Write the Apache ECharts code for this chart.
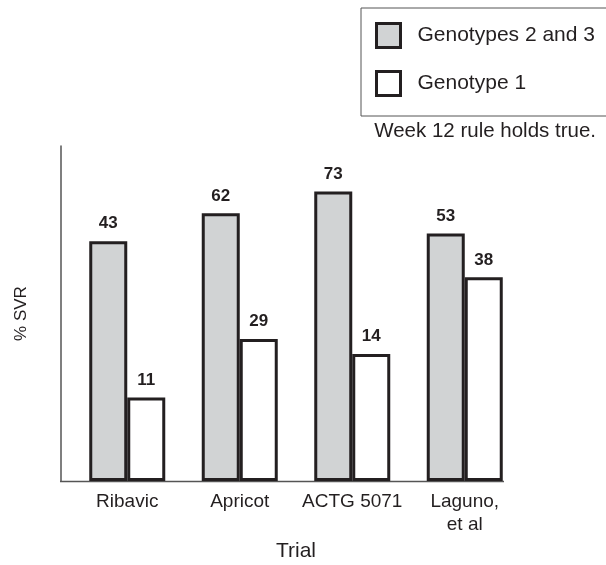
<!DOCTYPE html>
<html>
<head>
<meta charset="utf-8">
<script src="https://cdn.jsdelivr.net/npm/echarts@6/dist/echarts.min.js"></script>
<style>html,body{margin:0;padding:0;background:#fff}#c{width:606px;height:565px}</style>
</head>
<body>
<div id="c"></div>
<script>
// Trial categories
const categories = ['Ribavic', 'Apricot', 'ACTG 5071', 'Laguno,\net al'];
// Printed %SVR values (bar labels)
const svrGenotypes23 = [43, 62, 73, 53];
const svrGenotype1 = [11, 29, 14, 38];
// Bar heights as drawn in the picture (share of the axis height, 0-100)
const heightGenotypes23 = [71.6, 79.9, 86.4, 73.9];
const heightGenotype1 = [24.9, 42.4, 37.9, 60.8];
const seriesNames = ['Genotypes 2 and 3', 'Genotype 1'];

const FONT = '"Liberation Sans", Arial, sans-serif';
const INK = '#231f20';

const chart = echarts.init(document.getElementById('c'), null, {renderer: 'canvas'});
chart.setOption({
  animation: false,
  textStyle: {fontFamily: FONT},
  title: {
    text: 'Week 12 rule holds true.',
    right: 5, top: 116,
    textStyle: {fontFamily: FONT, fontSize: 20.5, fontWeight: 'normal', color: INK}
  },
  legend: {
    orient: 'vertical',
    left: 361, top: 8,
    itemWidth: 24, itemHeight: 24, itemGap: 21,
    padding: [14, 40, 19, 14],
    borderColor: '#555', borderWidth: 1,
    icon: 'rect',
    textStyle: {fontFamily: FONT, fontSize: 21, color: INK, padding: [0, 0, 0, 12]},
    data: [
      {name: seriesNames[0], itemStyle: {color: '#d1d3d4', borderColor: INK, borderWidth: 3}},
      {name: seriesNames[1], itemStyle: {color: '#ffffff', borderColor: INK, borderWidth: 3}}
    ]
  },
  grid: {left: 71, right: 85, top: 146, bottom: 84, containLabel: false, outerBoundsMode: 'none'},
  xAxis: {
    type: 'category',
    data: categories,
    name: 'Trial',
    nameLocation: 'middle',
    nameGap: 55,
    nameTextStyle: {fontFamily: FONT, fontSize: 21, color: INK},
    axisLine: {show: false},
    axisTick: {show: false},
    axisLabel: {interval: 0, fontFamily: FONT, fontSize: 19, color: INK, margin: 9, lineHeight: 23}
  },
  yAxis: {
    type: 'value',
    min: 0, max: 100,
    offset: 10,
    name: '% SVR',
    nameLocation: 'middle',
    nameGap: 31,
    nameTextStyle: {fontFamily: FONT, fontSize: 17, color: INK},
    axisLine: {show: true, lineStyle: {color: '#555', width: 1.5}},
    axisTick: {show: false},
    axisLabel: {show: false},
    splitLine: {show: false}
  },
  graphic: [{
    type: 'line',
    shape: {x1: 60, y1: 481.5, x2: 504, y2: 481.5},
    style: {stroke: '#555', lineWidth: 1.5},
    silent: true
  }],
  series: [
    {
      name: seriesNames[0], type: 'bar',
      data: heightGenotypes23,
      barWidth: 38, barGap: '0%',
      itemStyle: {color: '#d1d3d4', borderColor: INK, borderWidth: 3},
      label: {
        show: true, position: 'top', distance: 9,
        fontFamily: FONT, fontSize: 17, fontWeight: 'bold', color: INK,
        formatter: p => String(svrGenotypes23[p.dataIndex])
      },
      z: 3
    },
    {
      name: seriesNames[1], type: 'bar',
      data: heightGenotype1,
      barWidth: 38, barGap: '0%',
      itemStyle: {color: '#ffffff', borderColor: INK, borderWidth: 3},
      label: {
        show: true, position: 'top', distance: 9,
        fontFamily: FONT, fontSize: 17, fontWeight: 'bold', color: INK,
        formatter: p => String(svrGenotype1[p.dataIndex])
      },
      z: 2
    }
  ]
});
</script>
</body>
</html>
